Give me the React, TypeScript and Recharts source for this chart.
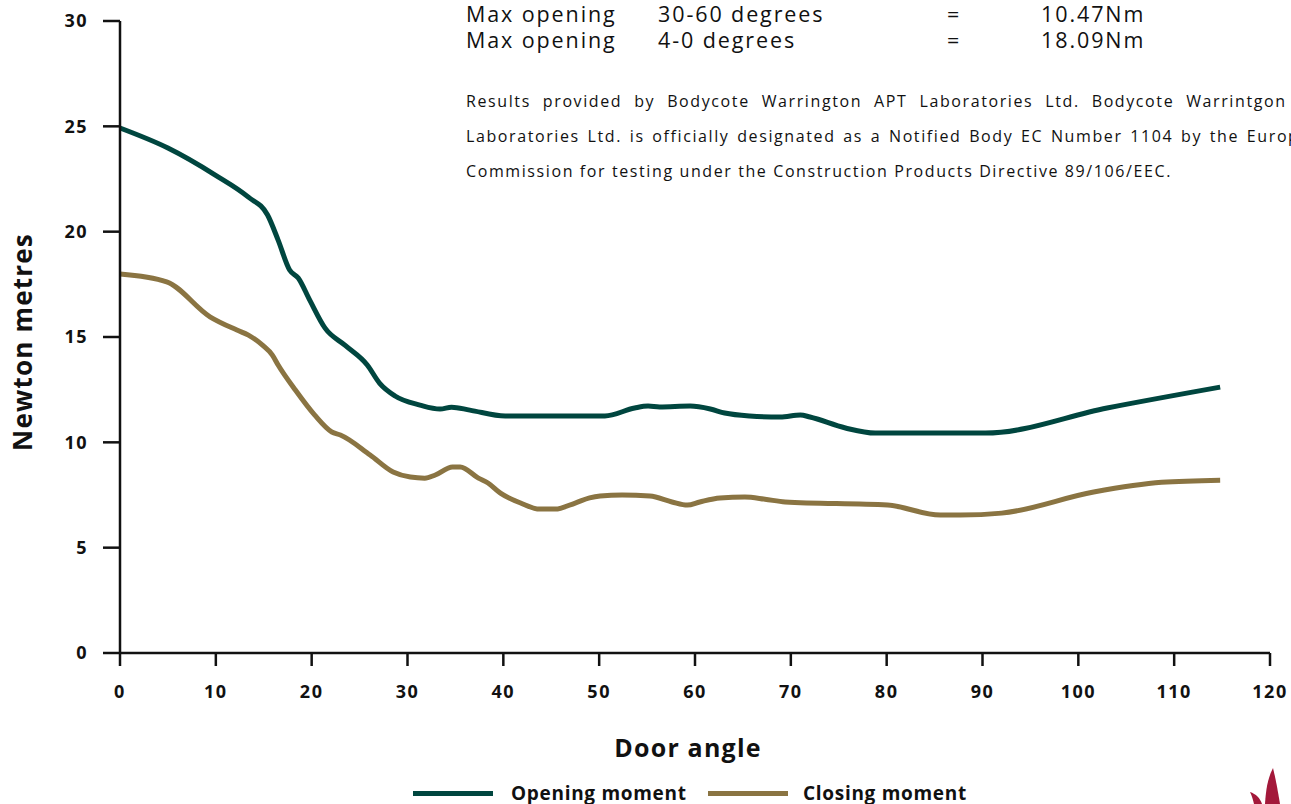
import React from 'react';
import { LineChart, Line, XAxis, YAxis } from 'recharts';

// door angle (degrees) / moment (Nm)
const openingAngles = [0, 5, 9.9, 13.4, 15.4, 16.5, 17.7, 18.6, 19.8, 21.4, 23.5, 25.8, 27.1, 28.7, 31.3, 33.4, 34.6, 36.5, 40.2, 50.6, 53.7, 55.1, 56.3, 59.5, 61.6, 63.1, 65.7, 68.9, 71, 72, 75.7, 78.8, 90.3, 103, 114.8];
const openingMoments = [24.92, 23.97, 22.7, 21.64, 20.79, 19.6, 18.18, 17.8, 16.75, 15.42, 14.6, 13.67, 12.8, 12.2, 11.77, 11.58, 11.67, 11.53, 11.25, 11.25, 11.63, 11.72, 11.68, 11.72, 11.58, 11.39, 11.25, 11.2, 11.3, 11.2, 10.68, 10.44, 10.44, 11.63, 12.62];

const closingAngles = [0, 4.87, 9.39, 12.2, 13.4, 14.9, 15.9, 16.5, 18.3, 20.3, 22.1, 23, 26.1, 28.5, 30.3, 31.8, 32.9, 34.7, 35.5, 37.4, 38.4, 39.7, 41.8, 43.8, 45.4, 47.5, 49, 50.1, 52.4, 55.3, 57.6, 59.2, 60.5, 62.6, 65.2, 67.3, 69.4, 80.1, 85.6, 87.7, 92, 101.6, 108.7, 114.8];
const closingMoments = [17.99, 17.62, 15.96, 15.33, 15.09, 14.6, 14.14, 13.67, 12.48, 11.3, 10.49, 10.35, 9.4, 8.59, 8.35, 8.3, 8.45, 8.83, 8.83, 8.3, 8.07, 7.59, 7.12, 6.83, 6.83, 7.12, 7.36, 7.45, 7.5, 7.45, 7.17, 7.02, 7.17, 7.36, 7.4, 7.3, 7.17, 7.02, 6.55, 6.55, 6.64, 7.64, 8.1, 8.2];

const xTicks = [0, 10, 20, 30, 40, 50, 60, 70, 80, 90, 100, 110, 120];
const yTicks = [0, 5, 10, 15, 20, 25, 30];

const TEAL = '#00463f';
const BROWN = '#8a7442';
const FONT = '"Open Sans", sans-serif';

const openingData = openingAngles.map((x, i) => ({ x, y: openingMoments[i] }));
const closingData = closingAngles.map((x, i) => ({ x, y: closingMoments[i] }));

const tickStyle = { fontSize: 18, fontWeight: 700, fill: '#111', fontFamily: FONT, letterSpacing: 1.5 };

const App: React.FC = () => {
  const justifyLine: React.CSSProperties = {
    width: 866,
    textAlign: 'justify',
    textAlignLast: 'justify',
    whiteSpace: 'nowrap',
    height: 35,
    lineHeight: '35px',
  };

  return (
    <div
      style={{
        position: 'absolute',
        top: 0,
        left: 0,
        width: 1291,
        height: 804,
        overflow: 'hidden',
        background: '#fff',
        fontFamily: FONT,
        color: '#111',
      }}
    >
      <LineChart
        width={1291}
        height={804}
        margin={{ top: 21, right: 21, left: 0, bottom: 0 }}
      >
        <XAxis
          dataKey="x"
          type="number"
          domain={[0, 120]}
          ticks={xTicks}
          interval={0}
          height={151}
          tickSize={13}
          tickMargin={19}
          axisLine={{ stroke: '#111', strokeWidth: 2.5 }}
          tickLine={{ stroke: '#111', strokeWidth: 2.5 }}
          tick={tickStyle}
          label={{
            value: 'Door angle',
            position: 'insideBottom',
            offset: 47,
            dx: -7,
            style: { fontSize: 25, fontWeight: 700, fill: '#111', fontFamily: FONT, letterSpacing: 1.2 },
          }}
        />
        <YAxis
          type="number"
          domain={[0, 30]}
          ticks={yTicks}
          interval={0}
          width={120}
          tickSize={17}
          tickMargin={15}
          axisLine={{ stroke: '#111', strokeWidth: 2.5 }}
          tickLine={{ stroke: '#111', strokeWidth: 2.5 }}
          tick={tickStyle}
          label={{
            content: (props: any) => {
              const vb = props.viewBox || { x: 0, y: 21, width: 120, height: 632 };
              const cx = vb.x + 22;
              const cy = vb.y + vb.height / 2 + 5;
              return (
                <text
                  x={cx}
                  y={cy}
                  transform={`rotate(-90 ${cx} ${cy})`}
                  textAnchor="middle"
                  dominantBaseline="central"
                  style={{ fontSize: 26, fontWeight: 700, fill: '#111', fontFamily: FONT, letterSpacing: 1.2 }}
                >
                  Newton metres
                </text>
              );
            },
          }}
        />
        <Line
          data={openingData}
          dataKey="y"
          type="monotone"
          stroke={TEAL}
          strokeWidth={5}
          dot={false}
          activeDot={false}
          isAnimationActive={false}
        />
        <Line
          data={closingData}
          dataKey="y"
          type="monotone"
          stroke={BROWN}
          strokeWidth={5}
          dot={false}
          activeDot={false}
          isAnimationActive={false}
        />
      </LineChart>

      {/* header notes */}
      <div style={{ position: 'absolute', left: 466, top: 1, fontSize: 21.5, lineHeight: '26px', letterSpacing: 1.9 }}>
        {[
          ['Max opening', '30-60 degrees', '10.47Nm'],
          ['Max opening', '4-0 degrees', '18.09Nm'],
        ].map((row, i) => (
          <div key={i} style={{ position: 'relative', height: 26, width: 800 }}>
            <span style={{ position: 'absolute', left: 0 }}>{row[0]}</span>
            <span style={{ position: 'absolute', left: 192 }}>{row[1]}</span>
            <span style={{ position: 'absolute', left: 481 }}>=</span>
            <span style={{ position: 'absolute', left: 575 }}>{row[2]}</span>
          </div>
        ))}
      </div>

      <div style={{ position: 'absolute', left: 466, top: 84, fontSize: 16, letterSpacing: 1.6 }}>
        <div style={justifyLine}>
          Results provided by Bodycote Warrington APT Laboratories Ltd. Bodycote Warrintgon APT
        </div>
        <div style={justifyLine}>
          Laboratories Ltd. is officially designated as a Notified Body EC Number 1104 by the European
        </div>
        <div style={{ height: 35, lineHeight: '35px', whiteSpace: 'nowrap' }}>
          Commission for testing under the Construction Products Directive 89/106/EEC.
        </div>
      </div>

      {/* legend */}
      <div style={{ position: 'absolute', left: 0, top: 780, width: 1291, height: 26, fontSize: 19, fontWeight: 700, letterSpacing: 0.7, whiteSpace: 'nowrap' }}>
        <span style={{ position: 'absolute', left: 413, top: 11, width: 80, height: 5, background: TEAL }} />
        <span style={{ position: 'absolute', left: 511, top: 0, lineHeight: '26px' }}>Opening moment</span>
        <span style={{ position: 'absolute', left: 708, top: 11, width: 80, height: 5, background: BROWN }} />
        <span style={{ position: 'absolute', left: 803, top: 0, lineHeight: '26px' }}>Closing moment</span>
      </div>

      {/* corner logo fragment */}
      <svg style={{ position: 'absolute', left: 1240, top: 760 }} width={51} height={44}>
        <path d="M33 8 C28 18 26 28 25 44 L40 44 C38 32 36 20 33 8 Z" fill="#a3183a" />
        <path d="M10 32 C16 34 20 38 22 44 L14 44 C13 40 12 36 10 32 Z" fill="#a3183a" />
      </svg>
    </div>
  );
};

export default App;
